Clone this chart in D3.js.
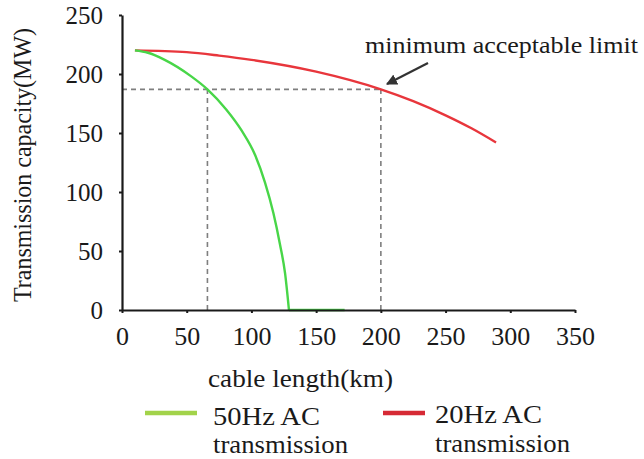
<!DOCTYPE html>
<html>
<head>
<meta charset="utf-8">
<script src="https://cdn.jsdelivr.net/npm/d3@7/dist/d3.min.js"></script>
</head>
<body style="margin:0;padding:0;background:#fff">
<svg id="chart" width="644" height="459" style="display:block"></svg>
<script>
// ---- data ----
const xTicks = [0, 50, 100, 150, 200, 250, 300, 350];
const yTicks = [0, 50, 100, 150, 200, 250];

const redLength   = [10, 50, 75, 100, 150, 200, 225, 250, 270, 289];
const redCapacity = [220, 218.5, 215.6, 212, 202, 187, 177, 165, 154, 142];

const greenLength   = [10, 20, 33, 53.5, 66, 80.5, 92.5, 103, 110.5, 117, 122, 126, 129, 172];
const greenCapacity = [220, 218, 212, 198, 187, 170, 152, 131, 108, 82, 56, 31, 0, 0];

const limitCapacity = 187;
const limitLengths = [66, 200];

const seriesNames = ["50Hz AC", "20Hz AC"];
const xTitle = "cable length(km)";
const yTitle = "Transmission capacity(MW)";
const annotation = "minimum acceptable limit";

// ---- layout ----
const FONT = '"Liberation Serif"';
const svg = d3.select("#chart");
const x = d3.scaleLinear().domain([0, 350]).range([122, 575]);
const y = d3.scaleLinear().domain([0, 250]).range([310, 15]);

const redColor = "#e8363c";
const greenColor = "#48d648";
const legendGreen = "#a2d34a";
const legendRed = "#d62a35";
const dashColor = "#7f7f7f";
const ink = "#1a1a1a";

// dashed guide lines
const guides = svg.append("g")
  .attr("stroke", dashColor).attr("stroke-width", 1.6)
  .attr("stroke-dasharray", "5,4").attr("fill", "none");
guides.append("line")
  .attr("x1", x(0)).attr("x2", x(limitLengths[1]))
  .attr("y1", y(limitCapacity)).attr("y2", y(limitCapacity));
limitLengths.forEach(L => {
  guides.append("line")
    .attr("x1", x(L)).attr("x2", x(L))
    .attr("y1", y(0)).attr("y2", y(limitCapacity));
});

// curves
const red = redLength.map((d, i) => [d, redCapacity[i]]);
const green = greenLength.map((d, i) => [d, greenCapacity[i]]);
const corner = greenCapacity.indexOf(0);

const smooth = d3.line().x(d => x(d[0])).y(d => y(d[1])).curve(d3.curveMonotoneX);
const straight = d3.line().x(d => x(d[0])).y(d => y(d[1]));

svg.append("path").attr("d", smooth(red))
  .attr("fill", "none").attr("stroke", redColor).attr("stroke-width", 2.4);
svg.append("path").attr("d", smooth(green.slice(0, corner + 1)))
  .attr("fill", "none").attr("stroke", greenColor).attr("stroke-width", 2.4);
svg.append("path").attr("d", straight(green.slice(corner)))
  .attr("fill", "none").attr("stroke", greenColor).attr("stroke-width", 2.4);

// axes
const xAxis = svg.append("g").attr("transform", `translate(0,${y(0)})`)
  .call(d3.axisBottom(x).tickValues(xTicks).tickSize(3).tickSizeOuter(0).tickFormat(d3.format("d")));
xAxis.attr("font-family", null).attr("font-size", null);
xAxis.select(".domain").attr("stroke", ink).attr("stroke-width", 2.2);
xAxis.selectAll(".tick line").attr("stroke", ink).attr("stroke-width", 2);
xAxis.selectAll(".tick text")
  .attr("y", 35).attr("dy", 0)
  .style("font-family", FONT)
  .style("font-size", "26px")
  .style("fill", ink);

const yAxis = svg.append("g").attr("transform", `translate(${x(0)},0)`)
  .call(d3.axisLeft(y).tickValues(yTicks).tickSize(3).tickSizeOuter(0).tickFormat(d3.format("d")));
yAxis.attr("font-family", null).attr("font-size", null);
yAxis.select(".domain").attr("stroke", ink).attr("stroke-width", 2.2);
yAxis.selectAll(".tick line").attr("stroke", ink).attr("stroke-width", 2);
yAxis.selectAll(".tick text")
  .attr("x", -19).attr("dy", "0.34em")
  .style("font-family", FONT)
  .style("font-size", "25px")
  .style("fill", ink);

function label(sel, size, len) {
  sel.style("font-family", FONT).style("font-size", size + "px").style("fill", ink);
  if (len) sel.attr("textLength", len).attr("lengthAdjust", "spacingAndGlyphs");
  return sel;
}

// axis titles
label(svg.append("text")
  .attr("transform", "translate(31,165) rotate(-90)")
  .attr("text-anchor", "middle"), 25, 274)
  .text(yTitle);

label(svg.append("text").attr("x", 208).attr("y", 387), 25, 185).text(xTitle);

// annotation
label(svg.append("text").attr("x", 365).attr("y", 53), 23, 273).text(annotation);

svg.append("defs").append("marker")
  .attr("id", "arrow").attr("viewBox", "0 0 10 10")
  .attr("refX", 9).attr("refY", 5)
  .attr("markerWidth", 5).attr("markerHeight", 5)
  .attr("orient", "auto")
  .append("path").attr("d", "M0,0 L10,5 L0,10 z").attr("fill", "#333");

svg.append("line")
  .attr("x1", 428).attr("y1", 63).attr("x2", 387).attr("y2", 84)
  .attr("stroke", "#333").attr("stroke-width", 2.2)
  .attr("marker-end", "url(#arrow)");

// legend
const legend = [
  { name: seriesNames[0], color: legendGreen, x1: 145, x2: 197, ly: 413, tx: 213, t1: 425, t2: 453 },
  { name: seriesNames[1], color: legendRed, x1: 383, x2: 425, ly: 413, tx: 435, t1: 423, t2: 452 }
];
legend.forEach(l => {
  svg.append("line").attr("x1", l.x1).attr("x2", l.x2).attr("y1", l.ly).attr("y2", l.ly)
    .attr("stroke", l.color).attr("stroke-width", 4.5);
  label(svg.append("text").attr("x", l.tx).attr("y", l.t1), 26, 107).text(l.name);
  label(svg.append("text").attr("x", l.tx).attr("y", l.t2), 26, 135).text("transmission");
});
</script>
</body>
</html>
